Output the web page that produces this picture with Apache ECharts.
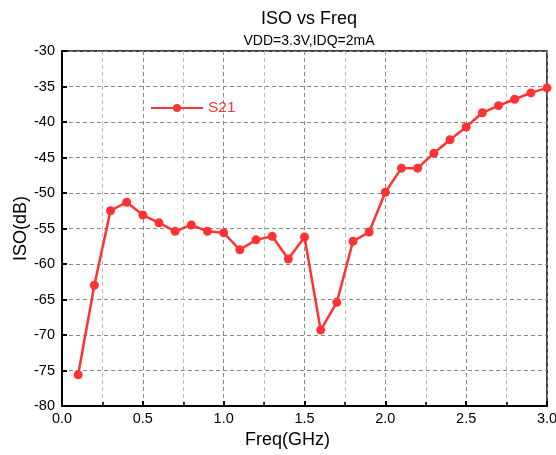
<!DOCTYPE html>
<html><head><meta charset="utf-8">
<script src="https://cdn.jsdelivr.net/npm/echarts@6/dist/echarts.min.js"></script>
<style>html,body{margin:0;padding:0;background:#fff}#c{width:556px;height:455px}</style>
</head><body><div id="c"></div>
<script>
const freq = [0.1,0.2,0.3,0.4,0.5,0.6,0.7,0.8,0.9,1.0,1.1,1.2,1.3,1.4,1.5,1.6,1.7,1.8,1.9,2.0,2.1,2.2,2.3,2.4,2.5,2.6,2.7,2.8,2.9,3.0];
const s21 = [-75.6,-63.0,-52.5,-51.3,-53.1,-54.2,-55.4,-54.5,-55.4,-55.6,-58.0,-56.6,-56.1,-59.3,-56.2,-69.3,-65.4,-56.8,-55.5,-49.9,-46.5,-46.5,-44.4,-42.5,-40.7,-38.7,-37.7,-36.8,-35.9,-35.2];
const seriesName = 'S21';
const titleText = 'ISO vs Freq';
const subText = 'VDD=3.3V,IDQ=2mA';
const xName = 'Freq(GHz)';
const yName = 'ISO(dB)';

const chart = echarts.init(document.getElementById('c'));
const font = 'Liberation Sans, Arial, sans-serif';
chart.setOption({
  animation: false,
  textStyle: {fontFamily: font},
  title: {
    text: titleText, subtext: subText, left: 304, textAlign: 'center', top: 5,
    textStyle: {fontSize: 18, fontWeight: 'normal', color: '#000', fontFamily: font},
    subtextStyle: {fontSize: 14, color: '#000', fontFamily: font},
    itemGap: 6
  },
  legend: {
    data: [seriesName], left: 145, top: 95, itemWidth: 52, itemHeight: 10, itemGap: 5,
    textStyle: {fontSize: 15.5, color: '#ff3333', fontFamily: font}
  },
  grid: {left: 62, right: 9, top: 51, bottom: 49, show: true, borderColor: '#000', borderWidth: 1.5,
         outerBoundsMode: 'none', containLabel: false},
  xAxis: {
    type: 'value', min: 0, max: 3, interval: 0.5,
    name: xName, nameLocation: 'middle', nameGap: 25, nameMoveOverlap: false,
    nameTextStyle: {fontSize: 18, color: '#000', fontFamily: font, padding: [0, 34, 0, 0]},
    axisLine: {lineStyle: {color: '#000', width: 2}},
    axisTick: {inside: true, length: 5, lineStyle: {color: '#000', width: 2}},
    minorTick: {show: true, splitNumber: 2, length: 4, lineStyle: {color: '#000', width: 1.5}},
    axisLabel: {fontSize: 14.5, color: '#000', margin: 5, formatter: v => v.toFixed(1)},
    splitLine: {show: true, lineStyle: {color: '#888', type: [4, 3], width: 1}},
    minorSplitLine: {show: true, lineStyle: {color: '#bbb', type: [4, 3], width: 1}}
  },
  yAxis: {
    type: 'value', min: -80, max: -30, interval: 5,
    name: yName, nameLocation: 'middle', nameGap: 32, nameRotate: 90, nameMoveOverlap: false,
    nameTextStyle: {fontSize: 18, color: '#000', fontFamily: font},
    axisLine: {show: true, lineStyle: {color: '#000', width: 2}},
    axisTick: {show: true, inside: true, length: 5, lineStyle: {color: '#000', width: 2}},
    axisLabel: {fontSize: 14.5, color: '#000', margin: 7},
    splitLine: {show: true, lineStyle: {color: '#888', type: [4, 3], width: 1}}
  },
  series: [{
    name: seriesName, type: 'line',
    data: freq.map((f, i) => [f, s21[i]]),
    symbol: 'circle', symbolSize: 9,
    lineStyle: {color: '#ff3333', width: 2.5},
    itemStyle: {color: '#ff3333'},
    clip: false
  }]
});
</script></body></html>
